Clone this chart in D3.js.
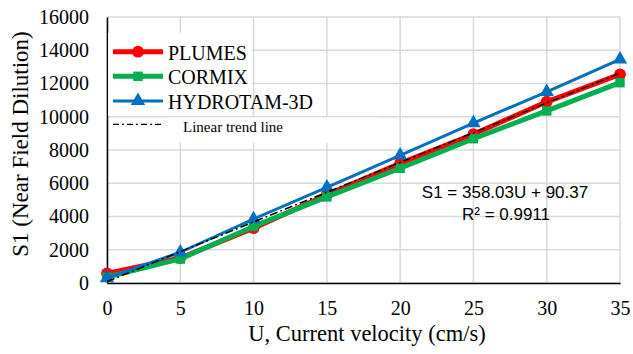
<!DOCTYPE html>
<html>
<head>
<meta charset="utf-8">
<script src="https://cdn.jsdelivr.net/npm/d3@7"></script>
<style>
  body { margin: 0; background: #fff; }
  svg { display: block; }
</style>
</head>
<body>
<div id="chart"></div>
<script>
// data
var velocity = [0, 5, 10, 15, 20, 25, 30, 35];
var plumes   = [580, 1500, 3300, 5300, 7200, 8950, 10900, 12550];
var cormix   = [350, 1450, 3400, 5180, 6900, 8680, 10350, 12050];
var hydrotam = [300, 1850, 3850, 5750, 7680, 9620, 11500, 13450];
var yTicks   = [0, 2000, 4000, 6000, 8000, 10000, 12000, 14000, 16000];
var trendSlope = 358.03, trendIntercept = 90.37;

var W = 633, H = 354;
var margin = {top: 17, right: 13, bottom: 71, left: 107},
    width = W - margin.left - margin.right,
    height = H - margin.top - margin.bottom;

var SERIF = '"Liberation Serif"';
var SANS = '"Liberation Sans"';

var svg = d3.select("#chart").append("svg")
  .attr("width", W).attr("height", H);

var g = svg.append("g")
  .attr("transform", "translate(" + margin.left + "," + margin.top + ")");

var x = d3.scaleLinear().domain([0, 35]).range([0, width]);
var y = d3.scaleLinear().domain([0, 16000]).range([height, 0]);

// grid
g.append("g").selectAll("line").data(yTicks).enter().append("line")
  .attr("x1", 0).attr("x2", width)
  .attr("y1", d => y(d)).attr("y2", d => y(d))
  .attr("stroke", "#d9d9d9").attr("stroke-width", 1.5);
g.append("g").selectAll("line").data(velocity).enter().append("line")
  .attr("x1", d => x(d)).attr("x2", d => x(d))
  .attr("y1", 0).attr("y2", height)
  .attr("stroke", "#d9d9d9").attr("stroke-width", 1.5);

// axes
var xAxis = g.append("g")
  .attr("transform", "translate(0," + height + ")")
  .call(d3.axisBottom(x).tickValues(velocity).tickSize(0).tickPadding(18));
var yAxis = g.append("g")
  .call(d3.axisLeft(y).tickValues(yTicks).tickSize(0).tickPadding(18).tickFormat(d3.format("d")));
[xAxis, yAxis].forEach(function(a) {
  a.attr("font-family", null).attr("font-size", null);
  a.select(".domain").attr("stroke", "#000").attr("stroke-width", 1.5);
  a.selectAll("text")
    .style("font-family", SERIF).style("font-size", "20px").attr("fill", "#000");
});

// legend background boxes
g.append("rect").attr("x", 1).attr("y", 16).attr("width", 144).attr("height", 83).attr("fill", "#fff");
g.append("rect").attr("x", 61).attr("y", 100.5).attr("width", 210).attr("height", 25).attr("fill", "#fff");

// series
var series = [
  {name: "PLUMES", values: plumes, color: "#ff0000", width: 5, shape: d3.symbolCircle, size: 110},
  {name: "CORMIX", values: cormix, color: "#00b050", width: 5, shape: d3.symbolSquare, size: 90},
  {name: "HYDROTAM-3D", values: hydrotam, color: "#0070c0", width: 3, shape: d3.symbolTriangle, size: 90}
];

var line = d3.line().x((d, i) => x(velocity[i])).y(d => y(d));

series.forEach(function(s) {
  g.append("path").datum(s.values)
    .attr("d", line)
    .attr("fill", "none")
    .attr("stroke", s.color)
    .attr("stroke-width", s.width)
    .attr("stroke-linejoin", "round");
  g.selectAll(null).data(s.values).enter().append("path")
    .attr("d", d3.symbol().type(s.shape).size(s.size))
    .attr("transform", (d, i) => "translate(" + x(velocity[i]) + "," + y(d) + ")")
    .attr("fill", s.color);
});

// linear trend line
g.append("line")
  .attr("x1", x(0)).attr("y1", y(trendIntercept))
  .attr("x2", x(35)).attr("y2", y(trendSlope * 35 + trendIntercept))
  .attr("stroke", "#000").attr("stroke-width", 1.5)
  .attr("stroke-dasharray", "8,3,2,3");

// legend
var leg = g.append("g");
series.forEach(function(s, i) {
  var ly = 34.7 + i * 24.6;
  leg.append("line").attr("x1", 6).attr("x2", 56).attr("y1", ly).attr("y2", ly)
    .attr("stroke", s.color).attr("stroke-width", s.width);
  leg.append("path").attr("d", d3.symbol().type(s.shape).size(s.size))
    .attr("transform", "translate(31," + ly + ")").attr("fill", s.color);
  leg.append("text").attr("x", 61).attr("y", ly + 8)
    .style("font-family", SERIF).style("font-size", "20px").text(s.name);
});
leg.append("line").attr("x1", 6).attr("x2", 56).attr("y1", 107.3).attr("y2", 107.3)
  .attr("stroke", "#000").attr("stroke-width", 1.2).attr("stroke-dasharray", "6,3,2,3");
leg.append("text").attr("x", 76).attr("y", 115.3)
  .style("font-family", SERIF).style("font-size", "15px").text("Linear trend line");

// equation
g.append("text").attr("x", 505 - margin.left).attr("y", 198 - margin.top)
  .attr("text-anchor", "middle").style("font-family", SANS).style("font-size", "17px")
  .text("S1 = " + trendSlope + "U + " + trendIntercept);
g.append("text").attr("x", 506 - margin.left).attr("y", 220 - margin.top)
  .attr("text-anchor", "middle").style("font-family", SANS).style("font-size", "17px")
  .text("R\u00b2 = 0.9911");

// axis titles
svg.append("text").attr("x", 367).attr("y", 341)
  .attr("text-anchor", "middle").style("font-family", SERIF).style("font-size", "22.5px")
  .text("U, Current velocity (cm/s)");
svg.append("text").attr("transform", "translate(28,144) rotate(-90)")
  .attr("text-anchor", "middle").style("font-family", SERIF).style("font-size", "23px")
  .text("S1 (Near Field Dilution)");
</script>
</body>
</html>
